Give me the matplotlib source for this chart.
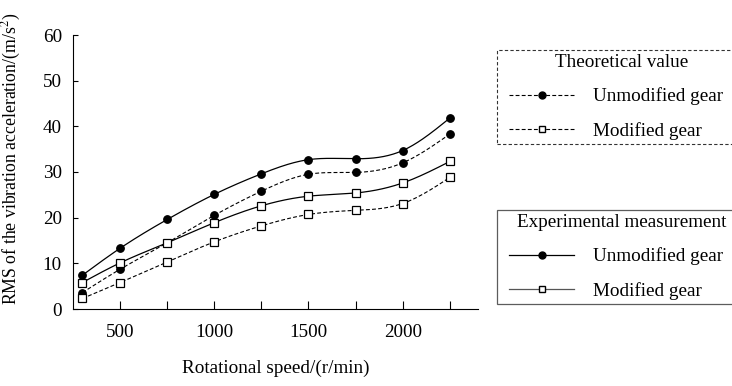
import numpy as np
import matplotlib
matplotlib.use("Agg")
import matplotlib.pyplot as plt
from matplotlib.lines import Line2D
from matplotlib.legend_handler import HandlerLine2D

# ---------- data ----------
speed = [300, 500, 750, 1000, 1250, 1500, 1750, 2000, 2250]
theo_unmod = [3.6, 8.7, 14.5, 20.5, 25.8, 29.5, 29.9, 32.0, 38.3]
theo_mod = [2.3, 5.8, 10.3, 14.7, 18.2, 20.7, 21.6, 23.1, 28.8]
exp_unmod = [7.4, 13.3, 19.6, 25.1, 29.6, 32.7, 32.9, 34.7, 41.8]
exp_mod = [5.8, 10.1, 14.5, 18.9, 22.6, 24.7, 25.4, 27.6, 32.3]

x_ticks = [500, 1000, 1500, 2000]
x_minor = [750, 1250, 1750, 2250]
y_ticks = [0, 10, 20, 30, 40, 50, 60]


def natural_spline(x, y, n=300):
    # natural cubic spline through the points, only for drawing a smooth line
    x = np.asarray(x, float)
    y = np.asarray(y, float)
    k = len(x)
    h = np.diff(x)
    A = np.zeros((k, k))
    b = np.zeros(k)
    A[0, 0] = A[-1, -1] = 1
    for i in range(1, k - 1):
        A[i, i - 1] = h[i - 1]
        A[i, i] = 2 * (h[i - 1] + h[i])
        A[i, i + 1] = h[i]
        b[i] = 6 * ((y[i + 1] - y[i]) / h[i] - (y[i] - y[i - 1]) / h[i - 1])
    m = np.linalg.solve(A, b)
    xs = np.linspace(x[0], x[-1], n)
    idx = np.clip(np.searchsorted(x, xs) - 1, 0, k - 2)
    x0, x1 = x[idx], x[idx + 1]
    hh = x1 - x0
    t0, t1 = x1 - xs, xs - x0
    ys = (m[idx] * t0**3 / (6 * hh) + m[idx + 1] * t1**3 / (6 * hh)
          + (y[idx] / hh - m[idx] * hh / 6) * t0
          + (y[idx + 1] / hh - m[idx + 1] * hh / 6) * t1)
    return xs, ys


FS = 13.8
plt.rcParams['font.family'] = ['Liberation Serif', 'DejaVu Serif']
plt.rcParams['font.size'] = FS
plt.rcParams['mathtext.fontset'] = 'stix'

fig = plt.figure(figsize=(7.32, 3.86), dpi=100)
ax = fig.add_axes([73 / 732, 1 - 309 / 386, 405 / 732, 274 / 386])

dash = (0, (3.5, 2))
series = [
    (exp_unmod, '-', 'o', 'black'),
    (theo_unmod, dash, 'o', 'black'),
    (exp_mod, '-', 's', 'white'),
    (theo_mod, dash, 's', 'white'),
]
for vals, ls, mk, fc in series:
    xs, ys = natural_spline(speed, vals)
    ax.plot(xs, ys, color='black', lw=0.9 if ls == '-' else 0.8, linestyle=ls)
    ax.plot(speed, vals, linestyle='none', marker=mk, ms=5.4 if mk == 'o' else 5.2,
            mfc=fc, mec='black', mew=0.9, zorder=3)

ax.set_xlim(250, 2400)
ax.set_ylim(0, 60)
ax.set_xticks(x_ticks)
ax.set_xticks(x_minor, minor=True)
ax.set_yticks(y_ticks)
ax.spines['top'].set_visible(False)
ax.spines['right'].set_visible(False)
for s in ['left', 'bottom']:
    ax.spines[s].set_linewidth(0.8)
ax.tick_params(axis='x', which='both', direction='in', length=6, width=0.8, pad=11)
ax.tick_params(axis='y', direction='in', length=3.5, width=0.8, pad=8)

ax.set_xlabel('Rotational speed/(r/min)', labelpad=13)
ax.set_ylabel('RMS of the vibration acceleration/(m/s$^2$)', fontsize=12.8)
ax.yaxis.set_label_coords(-0.124, 0.55)

# ---------- legends ----------
hmap = {Line2D: HandlerLine2D(xpad=0.43)}
leg_kw = dict(loc='upper left', mode='expand', bbox_transform=fig.transFigure,
              borderaxespad=0, fancybox=False, handlelength=3.81,
              handletextpad=1.0, labelspacing=0.85, borderpad=0.22,
              title_fontsize=FS, fontsize=FS, handler_map=hmap)
h_theo = [Line2D([], [], color='black', lw=0.8, linestyle=dash, marker='o', ms=5,
                 mfc='black', mec='black'),
          Line2D([], [], color='black', lw=0.8, linestyle=dash, marker='s', ms=4,
                 mfc='white', mec='black')]
h_exp = [Line2D([], [], color='black', lw=0.9, marker='o', ms=5,
                mfc='black', mec='black'),
         Line2D([], [], color='#555555', lw=0.9, marker='s', ms=4,
                mfc='white', mec='black')]
labels = ['Unmodified gear', 'Modified gear']

leg1 = ax.legend(h_theo, labels, title='Theoretical value',
                 bbox_to_anchor=(497 / 732, 1 - 50 / 386, 250 / 732, 0), **leg_kw)
leg1.get_frame().set_linestyle((0, (3, 2)))
leg1.get_frame().set_edgecolor('black')
leg1.get_frame().set_linewidth(0.8)
ax.add_artist(leg1)

leg2 = ax.legend(h_exp, labels, title='Experimental measurement',
                 bbox_to_anchor=(497 / 732, 1 - 210 / 386, 250 / 732, 0), **leg_kw)
leg2.get_frame().set_edgecolor('#333333')
leg2.get_frame().set_linewidth(0.9)

fig.savefig('out.png', dpi=100)
